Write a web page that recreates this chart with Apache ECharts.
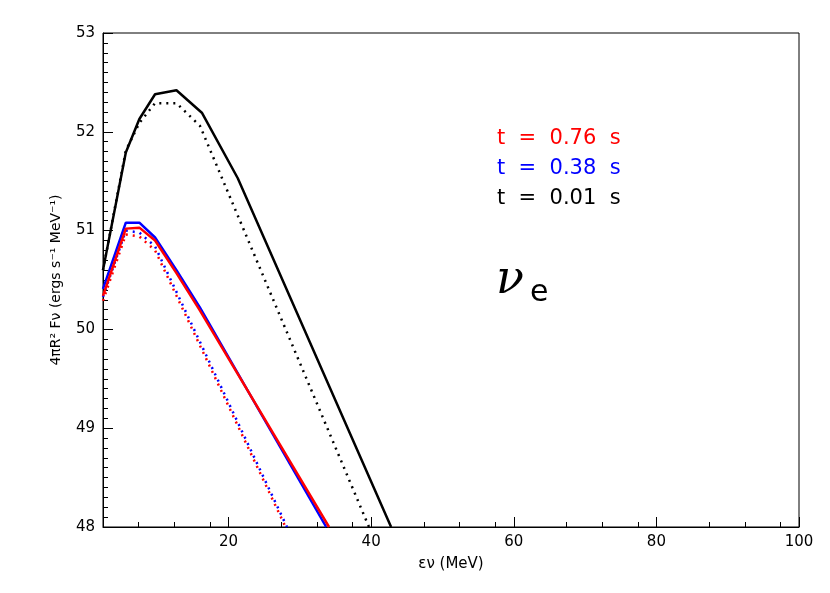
<!DOCTYPE html>
<html>
<head>
<meta charset="utf-8">
<script src="https://cdn.jsdelivr.net/npm/echarts@6/dist/echarts.min.js"></script>
<style>html,body{margin:0;padding:0;background:#fff}#main{width:830px;height:593px}</style>
</head>
<body>
<div id="main"></div>
<script>
var xBlack = [2.4, 5.6, 7.5, 9.7, 12.7, 16.3, 21.3, 42.8];
var yBlack = [50.6, 51.79, 52.13, 52.38, 52.42, 52.19, 51.53, 48.0];
var xBlackDot = [2.4, 5.6, 7.5, 9.7, 12.7, 16.0, 39.7];
var yBlackDot = [50.6, 51.81, 52.09, 52.29, 52.29, 52.06, 48.0];
var xBlue = [2.4, 5.6, 7.5, 9.7, 12.7, 16.0, 33.7];
var yBlue = [50.41, 51.08, 51.08, 50.93, 50.6, 50.22, 48.0];
var xRed = [2.4, 5.6, 7.5, 9.7, 12.7, 16.0, 34.1];
var yRed = [50.34, 51.02, 51.03, 50.9, 50.57, 50.19, 48.0];
var xBlueDot = [2.4, 5.6, 7.5, 9.7, 28.2];
var yBlueDot = [50.33, 51.0, 50.98, 50.84, 48.0];
var xRedDot = [2.4, 5.6, 7.5, 9.7, 28.0];
var yRedDot = [50.29, 50.96, 50.94, 50.8, 48.0];

function pts(xs, ys) {
    return xs.map(function (x, i) { return [x, ys[i]]; });
}
function line(xs, ys, color, type) {
    return {
        type: 'line', data: pts(xs, ys), showSymbol: false, clip: true,
        lineStyle: {color: color, width: 2.5, type: type}
    };
}

var chart = echarts.init(document.getElementById('main'));
var option = {
    animation: false,
    grid: {left: 103, right: 31, top: 33, bottom: 66},
    xAxis: {
        type: 'value', min: 2.4, max: 100, interval: 20,
        name: 'ε\u03bd (MeV)', nameLocation: 'middle', nameGap: 30,
        nameTextStyle: {fontSize: 15, color: '#000', fontFamily: 'DejaVu Sans'},
        axisLine: {onZero: false, lineStyle: {color: '#000'}},
        axisTick: {inside: true, length: 10, lineStyle: {color: '#000'}, customValues: [20, 40, 60, 80, 100]},
        minorTick: {show: true, splitNumber: 4, length: 5, lineStyle: {color: '#000'}},
        axisLabel: {color: '#000', fontSize: 15, fontFamily: 'DejaVu Sans', customValues: [20, 40, 60, 80, 100]},
        splitLine: {show: false}
    },
    yAxis: {
        type: 'value', min: 48, max: 53, interval: 1,
        name: '4πR\u00b2 F\u03bd (ergs s\u207b\u00b9 MeV\u207b\u00b9)', nameLocation: 'middle', nameGap: 40,
        nameTextStyle: {fontSize: 14, color: '#000', fontFamily: 'DejaVu Sans'},
        axisLine: {onZero: false, lineStyle: {color: '#000'}},
        axisTick: {inside: true, length: 10, lineStyle: {color: '#000'}},
        minorTick: {show: true, splitNumber: 10, length: 5, lineStyle: {color: '#000'}},
        axisLabel: {color: '#000', fontSize: 15, fontFamily: 'DejaVu Sans'},
        splitLine: {show: false}
    },
    graphic: [
        {type: 'rect', shape: {x: 103, y: 33, width: 696, height: 494}, style: {fill: 'none', stroke: '#000', lineWidth: 1}, silent: true},
        {type: 'text', left: 497, top: 128, style: {text: 't  =  0.76  s', fill: '#ff0000', font: '21px DejaVu Sans'}},
        {type: 'text', left: 497, top: 158, style: {text: 't  =  0.38  s', fill: '#0000ff', font: '21px DejaVu Sans'}},
        {type: 'text', left: 497, top: 188, style: {text: 't  =  0.01  s', fill: '#000', font: '21px DejaVu Sans'}},
        {type: 'text', left: 496, top: 258, style: {text: 'ν', fill: '#000', font: 'italic 46px DejaVu Serif'}},
        {type: 'text', left: 530, top: 278, style: {text: 'e', fill: '#000', font: '30px DejaVu Sans'}}
    ],
    series: [
        line(xBlack, yBlack, '#000', 'solid'),
        line(xBlackDot, yBlackDot, '#000', [2, 5]),
        line(xBlueDot, yBlueDot, '#0000ff', [2, 5]),
        line(xRedDot, yRedDot, '#ff0000', [2, 5]),
        line(xBlue, yBlue, '#0000ff', 'solid'),
        line(xRed, yRed, '#ff0000', 'solid')
    ]
};
chart.setOption(option);
</script>
</body>
</html>
